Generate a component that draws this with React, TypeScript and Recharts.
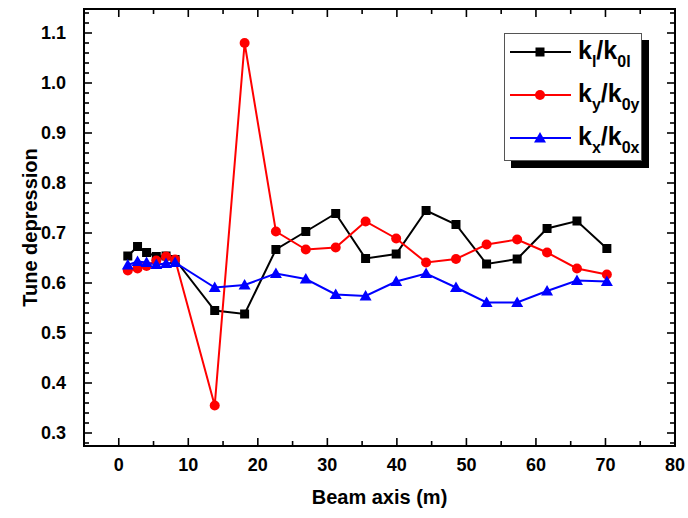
import { LineChart, Line, XAxis, YAxis, ReferenceArea, Legend, Label } from "recharts";

const beamAxis = [1.3, 2.7, 4.0, 5.4, 6.8, 8.1, 13.8, 18.1, 22.6, 26.9, 31.2, 35.5, 39.9, 44.2, 48.5, 52.9, 57.3, 61.6, 65.9, 70.2];
const klRatio = [0.654, 0.673, 0.661, 0.653, 0.654, 0.647, 0.545, 0.538, 0.667, 0.703, 0.739, 0.649, 0.658, 0.745, 0.717, 0.638, 0.648, 0.709, 0.724, 0.669];
const kyRatio = [0.625, 0.629, 0.634, 0.645, 0.653, 0.647, 0.355, 1.08, 0.703, 0.667, 0.671, 0.723, 0.689, 0.641, 0.648, 0.677, 0.687, 0.661, 0.629, 0.617];
const kxRatio = [0.636, 0.643, 0.641, 0.637, 0.639, 0.641, 0.591, 0.596, 0.619, 0.608, 0.577, 0.574, 0.603, 0.619, 0.591, 0.561, 0.561, 0.584, 0.605, 0.603];

const xTicks = [0, 5, 10, 15, 20, 25, 30, 35, 40, 45, 50, 55, 60, 65, 70, 75, 80];
const yMajor = [0.3, 0.4, 0.5, 0.6, 0.7, 0.8, 0.9, 1.0, 1.1];

const W = 688;
const H = 518;
const PLOT = { left: 84, right: 675, top: 9, bottom: 446 };
const FONT = "'Liberation Sans', Arial, sans-serif";

// minor ticks every 0.02 between the labelled ones
const yTicks: number[] = [];
for (let i = 14; i <= 57; i++) yTicks.push(Math.round(i * 2) / 100);

const data = beamAxis.map((x, i) => ({
  x,
  kl: klRatio[i],
  ky: kyRatio[i],
  kx: kxRatio[i],
}));

const SERIES = [
  { key: "kl", color: "#000000", shape: "square", base: "l" },
  { key: "ky", color: "#ff0000", shape: "circle", base: "y" },
  { key: "kx", color: "#0000ff", shape: "triangle", base: "x" },
];

const Marker = ({ cx, cy, shape, color }: { cx: number; cy: number; shape: string; color: string }) => {
  if (shape === "square") return <rect x={cx - 4.5} y={cy - 4.5} width={9} height={9} fill={color} />;
  if (shape === "circle") return <circle cx={cx} cy={cy} r={5} fill={color} />;
  return <polygon points={`${cx},${cy - 6} ${cx + 6},${cy + 4.5} ${cx - 6},${cy + 4.5}`} fill={color} />;
};

const near = (v: number, step: number) => Math.abs(Math.round(v / step) * step - v) < 1e-6;

const XTick = (props: any) => {
  const { x, y, payload } = props;
  const major = near(payload.value, 10);
  const len = major ? 8 : 5;
  return (
    <g>
      <line x1={x} x2={x} y1={PLOT.bottom} y2={PLOT.bottom - len} stroke="#000" strokeWidth={1.6} />
      <line x1={x} x2={x} y1={PLOT.top} y2={PLOT.top + len} stroke="#000" strokeWidth={1.6} />
      {major && (
        <text x={x} y={y} dy="0.71em" textAnchor="middle" fontFamily={FONT} fontWeight="bold" fontSize={18} fill="#000">
          {payload.value}
        </text>
      )}
    </g>
  );
};

const YTick = (props: any) => {
  const { x, y, payload } = props;
  const major = near(payload.value, 0.1);
  const len = major ? 8 : 5;
  return (
    <g>
      <line x1={PLOT.left} x2={PLOT.left + len} y1={y} y2={y} stroke="#000" strokeWidth={1.6} />
      <line x1={PLOT.right} x2={PLOT.right - len} y1={y} y2={y} stroke="#000" strokeWidth={1.6} />
      {major && (
        <text x={x} y={y} dy="0.36em" textAnchor="end" fontFamily={FONT} fontWeight="bold" fontSize={18} fill="#000">
          {payload.value.toFixed(1)}
        </text>
      )}
    </g>
  );
};

const LegendBox = () => (
  <div
    style={{
      position: "relative",
      width: 136,
      height: 126,
      border: "1px solid #555",
      background: "#fff",
      boxShadow: "7px 7px 0 #000",
      fontFamily: FONT,
      fontWeight: "bold",
      color: "#000",
    }}
  >
    {SERIES.map((s, i) => (
      <div key={s.key} style={{ position: "absolute", left: 0, top: 8 + i * 43, height: 20, display: "flex", alignItems: "center" }}>
        <svg width={70} height={20} style={{ display: "block" }}>
          <line x1={5} x2={66} y1={10} y2={10} stroke={s.color} strokeWidth={2} />
          <Marker cx={35} cy={10} shape={s.shape} color={s.color} />
        </svg>
        <span style={{ fontSize: 25, lineHeight: "20px", marginLeft: 3, whiteSpace: "nowrap" }}>
          k<span style={{ fontSize: 16, position: "relative", top: 8 }}>{s.base}</span>/k
          <span style={{ fontSize: 16, position: "relative", top: 8 }}>0{s.base}</span>
        </span>
      </div>
    ))}
  </div>
);

export default function App() {
  return (
    <div style={{ position: "absolute", left: 0, top: 0, width: W, height: H, background: "#fff" }}>
      <LineChart width={W} height={H} data={data} margin={{ top: PLOT.top, right: W - PLOT.right, bottom: 0, left: 0 }}>
        <XAxis
          dataKey="x"
          type="number"
          domain={[-5, 80]}
          ticks={xTicks}
          interval={0}
          allowDataOverflow
          height={H - PLOT.bottom}
          axisLine={false}
          tickLine={false}
          tickSize={0}
          tickMargin={12}
          tick={<XTick />}
        >
          <Label
            content={({ viewBox }: any) => (
              <text
                x={viewBox.x + viewBox.width / 2}
                y={viewBox.y + 51}
                textAnchor="middle"
                dominantBaseline="central"
                fontFamily={FONT}
                fontWeight="bold"
                fontSize={20}
                fill="#000"
              >
                Beam axis (m)
              </text>
            )}
          />
        </XAxis>
        <YAxis
          type="number"
          domain={[0.274, 1.148]}
          ticks={yTicks}
          interval={0}
          allowDataOverflow
          width={PLOT.left}
          axisLine={false}
          tickLine={false}
          tickSize={0}
          tickMargin={18}
          tick={<YTick />}
        >
          <Label
            content={({ viewBox }: any) => {
              const cx = viewBox.x + 30;
              const cy = viewBox.y + viewBox.height / 2;
              return (
                <text
                  x={cx}
                  y={cy}
                  transform={`rotate(-90 ${cx} ${cy})`}
                  textAnchor="middle"
                  dominantBaseline="central"
                  fontFamily={FONT}
                  fontWeight="bold"
                  fontSize={20}
                  fill="#000"
                >
                  Tune depression
                </text>
              );
            }}
          />
        </YAxis>
        <ReferenceArea x1={-5} x2={80} y1={0.274} y2={1.148} fill="none" stroke="#000" strokeWidth={2} ifOverflow="visible" />
        {SERIES.map((s) => (
          <Line
            key={s.key}
            dataKey={s.key}
            stroke={s.color}
            strokeWidth={2}
            isAnimationActive={false}
            dot={(p: any) => <Marker key={`${s.key}-${p.index}`} cx={p.cx} cy={p.cy} shape={s.shape} color={s.color} />}
            activeDot={false}
          />
        ))}
        <Legend
          layout="vertical"
          align="center"
          verticalAlign="middle"
          content={<LegendBox />}
          wrapperStyle={{ left: 504, top: 33, width: 138, height: 128 }}
        />
      </LineChart>
    </div>
  );
}
